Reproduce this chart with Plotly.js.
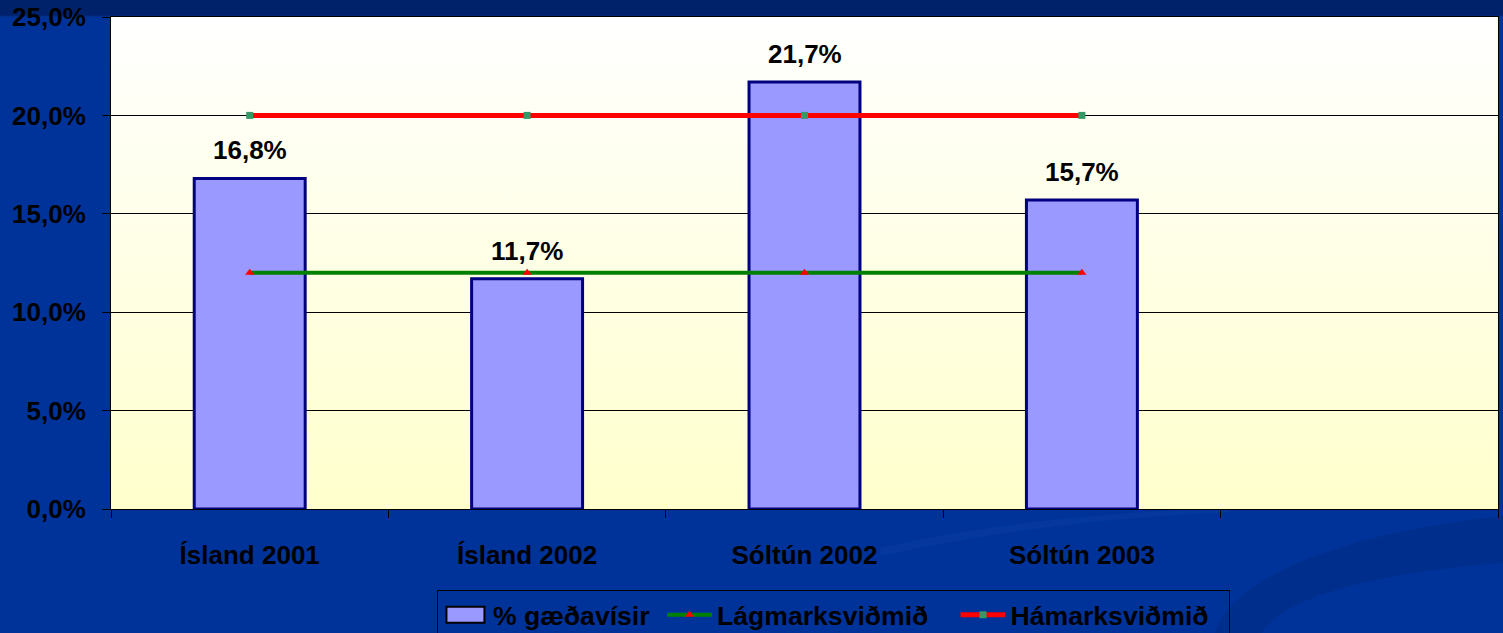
<!DOCTYPE html>
<html>
<head>
<meta charset="utf-8">
<script src="https://cdn.plot.ly/plotly-3.0.1.min.js"></script>
<style>
  html, body { margin: 0; padding: 0; width: 1503px; height: 633px; overflow: hidden; }
  body {
    background: linear-gradient(to bottom, #00226B 0px, #00226B 15px, #003399 17px, #003399 100%);
    position: relative;
  }
  #deco { position: absolute; left: 0; top: 0; width: 1503px; height: 633px; pointer-events: none; }
  #chart { position: absolute; left: 0; top: 0; width: 1503px; height: 633px; }
</style>
</head>
<body>
<svg id="deco" width="1503" height="633" xmlns="http://www.w3.org/2000/svg">
  <path d="M1215,633 C1232,575 1350,532 1503,516 L1503,563 C1385,572 1285,595 1262,633 Z" fill="#002E8A" opacity="0.75"/>
  <path d="M880,548 C980,525 1100,512 1230,508 L1230,512 C1100,518 990,532 880,556 Z" fill="#0A3CA0" opacity="0.5"/>
</svg>
<div id="chart"></div>
<script>
// ---- data ----
const categories = ['Ísland 2001', 'Ísland 2002', 'Sóltún 2002', 'Sóltún 2003'];
const axisCategories = ['Ísland 2001', 'Ísland 2002', 'Sóltún 2002', 'Sóltún 2003', ' '];
const gaedavisir = [0.168, 0.117, 0.217, 0.157];
const lagmark = [0.12, 0.12, 0.12, 0.12];
const hamark = [0.20, 0.20, 0.20, 0.20];
const seriesNames = ['% gæðavísir', 'Lágmarksviðmið', 'Hámarksviðmið'];

const FONT = { family: 'Liberation Sans, Arial, sans-serif', size: 26, color: '#000000', weight: 'bold' };
const LEGFONT = { family: 'Liberation Sans, Arial, sans-serif', size: 26.6, color: '#000000', weight: 'bold' };
const NB = '\u00A0';

function fmtPct(v) { return (v * 100).toFixed(1).replace('.', ',') + '%'; }

const traces = [
  {
    type: 'bar', name: seriesNames[0] + NB, x: categories, y: gaedavisir,
    marker: { color: '#9999FF', line: { color: '#000080', width: 3 } },
    hoverinfo: 'skip'
  },
  {
    type: 'scatter', mode: 'lines+markers', name: seriesNames[1] + NB + NB + NB, x: categories, y: lagmark,
    line: { color: '#008000', width: 4 },
    marker: { symbol: 'triangle-up', color: '#FF0000', size: 8 },
    hoverinfo: 'skip'
  },
  {
    type: 'scatter', mode: 'lines+markers', name: seriesNames[2] + NB + NB, x: categories, y: hamark,
    line: { color: '#FF0000', width: 5 },
    marker: { symbol: 'square', color: '#339966', size: 7 },
    hoverinfo: 'skip'
  }
];

const annotations = categories.map((c, i) => ({
  x: c, y: gaedavisir[i], xref: 'x', yref: 'y',
  text: fmtPct(gaedavisir[i]), showarrow: false,
  yanchor: 'bottom', yshift: 11, font: FONT
}));

const gradSvg = "<svg xmlns='http://www.w3.org/2000/svg' width='100' height='100' preserveAspectRatio='none'>" +
  "<defs><linearGradient id='g' x1='0' y1='0' x2='0' y2='1'>" +
  "<stop offset='0' stop-color='#FFFFFF'/><stop offset='1' stop-color='#FFFFCC'/></linearGradient></defs>" +
  "<rect width='100' height='100' fill='url(#g)'/></svg>";

const layout = {
  width: 1503, height: 633,
  margin: { l: 111, r: 5, t: 17, b: 124, pad: 0, autoexpand: false },
  paper_bgcolor: 'rgba(0,0,0,0)',
  plot_bgcolor: 'rgba(0,0,0,0)',
  separators: ',.',
  font: FONT,
  showlegend: true,
  bargap: 0.6,
  images: [{
    source: 'data:image/svg+xml;charset=utf-8,' + encodeURIComponent(gradSvg),
    xref: 'paper', yref: 'paper', x: 0, y: 1, sizex: 1, sizey: 1,
    sizing: 'stretch', xanchor: 'left', yanchor: 'top', layer: 'below'
  }],
  xaxis: {
    type: 'category', categoryorder: 'array', categoryarray: axisCategories,
    range: [-0.5, 4.5], fixedrange: true, automargin: false,
    showline: true, linecolor: '#000000', linewidth: 1, mirror: true,
    ticks: 'outside', tickson: 'boundaries', ticklen: 8, tickcolor: '#000000', tickwidth: 1,
    ticklabelstandoff: 23,
    showgrid: false, zeroline: false,
    tickfont: FONT
  },
  yaxis: {
    range: [0, 0.25], dtick: 0.05, tick0: 0, tickformat: '.1%', fixedrange: true, automargin: false,
    showline: true, linecolor: '#000000', linewidth: 1, mirror: true,
    ticks: 'outside', ticklen: 8, tickcolor: '#000000', tickwidth: 1,
    ticklabelstandoff: 11,
    showgrid: true, gridcolor: '#000000', gridwidth: 1, zeroline: false,
    tickfont: FONT
  },
  legend: {
    orientation: 'h', x: 0.235, xanchor: 'left', y: -0.1646, yanchor: 'top',
    bgcolor: 'rgba(0,0,0,0)', bordercolor: '#000000', borderwidth: 1,
    font: LEGFONT, traceorder: 'normal', itemwidth: 45
  },
  annotations: annotations
};

Plotly.newPlot('chart', traces, layout, { displayModeBar: false, staticPlot: true }).then(function (gd) {
  // widen the bar swatch in the legend to a rectangle like the original
  const first = gd.querySelector('.legend .traces');
  if (first) {
    first.querySelectorAll('.legendpoints path').forEach(function (p) {
      p.setAttribute('d', 'M-19,-8H19V8H-19Z');
      p.style.strokeWidth = '2px';
      p.style.stroke = '#000000';
    });
  }
});
</script>
</body>
</html>
